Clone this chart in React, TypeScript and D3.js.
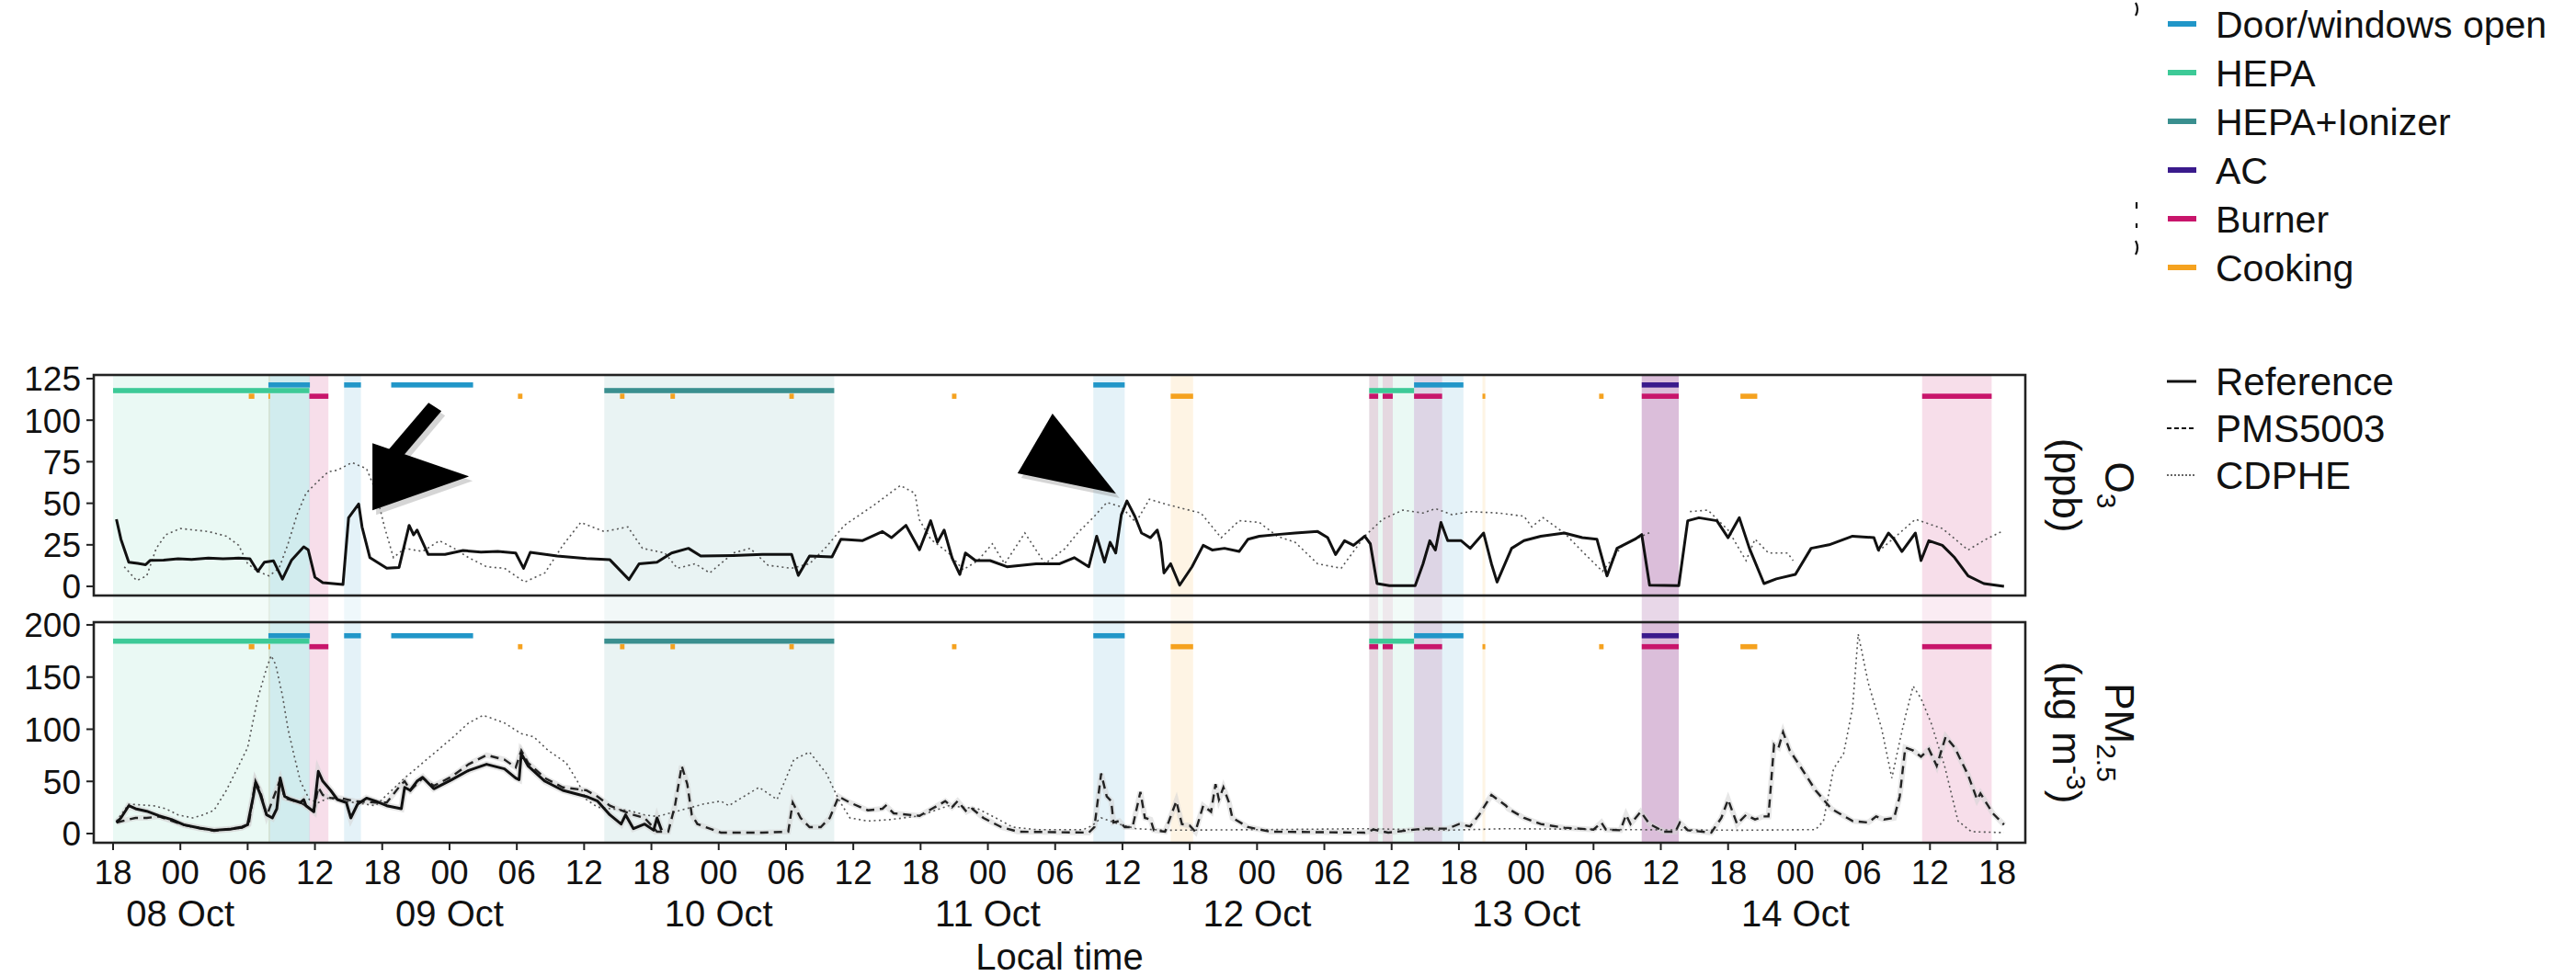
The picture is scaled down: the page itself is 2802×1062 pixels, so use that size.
import React from "react";
import * as d3 from "d3";

type Pt = [number, number | null];
type Span = [number, number];

// hours are counted from 07 Oct 18:00 local time
const START = new Date(2021, 9, 7, 18, 0, 0);
const at = (h: number) => d3.timeSecond.offset(START, Math.round(h * 3600));

// ---- activities ----
const activityNames = ["Door/windows open", "HEPA", "HEPA+Ionizer", "AC", "Burner", "Cooking"];
const activityColors = ["#2196c8", "#3dca97", "#3a8f8f", "#3a1a8c", "#c8156b", "#f5a21f"];

const doorOpen: Span[] = [[13.85, 17.55], [20.6, 22.1], [24.8, 32.1], [87.4, 90.2], [116.0, 120.4]];
const hepa: Span[] = [[0, 17.5], [112.0, 116.0]];
const hepaIonizer: Span[] = [[43.8, 64.3]];
const ac: Span[] = [[136.3, 139.6]];
const burner: Span[] = [[17.5, 19.2], [112.0, 112.8], [113.2, 114.1], [116.0, 118.5], [136.3, 139.6], [161.3, 167.5]];
const cooking: Span[] = [
  [12.1, 12.6], [13.85, 14.0], [36.1, 36.5], [45.2, 45.6], [49.7, 50.1], [60.3, 60.7],
  [74.8, 75.2], [94.3, 96.3], [122.1, 122.35], [132.5, 132.9], [145.1, 146.6],
];

// periods that are shaded across both panels: [activity index, from, to]
const shaded: [number, number, number][] = [
  [1, 0, 17.5], [0, 13.85, 17.55], [5, 13.85, 14.0], [4, 17.5, 19.2], [0, 20.6, 22.1],
  [2, 43.8, 64.3], [0, 87.4, 90.2], [5, 94.3, 96.3],
  [1, 112.0, 116.0], [4, 112.0, 112.8], [4, 113.2, 114.1], [4, 116.0, 118.5], [0, 116.0, 120.4],
  [5, 122.1, 122.35], [3, 136.3, 139.6], [4, 136.3, 139.6], [4, 161.3, 167.5],
];
const shadeAlphas = [0.12, 0.11, 0.11, 0.16, 0.14, 0.12];

// ---- O3 (ppb) ----
const o3Reference: Pt[] = [
  [0.3, 40.4], [0.7, 28.4], [1.4, 14.6], [2.2, 13.8], [2.9, 13], [3.3, 15.6], [4.5, 15.8], [5.8, 16.6], [7.0, 16.2],
  [8.5, 17], [9.8, 16.6], [11.2, 17], [12.2, 16.6], [12.9, 9], [13.5, 14.6], [14.3, 15.4], [15.1, 4.4], [15.9, 15.6],
  [17.0, 23.8], [17.4, 22], [18.0, 5.5], [18.7, 2.2], [20.5, 1.1], [21.0, 41.3], [21.9, 49.6], [22.2, 35.8],
  [22.9, 17.3], [24.4, 10.9], [25.5, 11.4], [26.4, 36.7], [26.8, 31], [27.1, 33.9], [28.1, 19.2], [29.6, 19.2],
  [31.2, 21.6], [32.8, 20.6], [34.3, 21], [35.9, 20.1], [36.6, 10.9], [37.2, 20.5], [39.6, 18.3], [42.2, 16.8],
  [44.3, 16], [46.0, 4.1], [46.9, 13.6], [48.5, 14.6], [49.8, 20.1], [51.3, 22.9], [52.4, 18.3], [55.3, 18.6],
  [57.9, 19.2], [60.5, 19.2], [61.1, 6.6], [62.1, 18.3], [64.1, 17.7], [64.9, 28.4], [66.8, 27.5], [68.6, 33],
  [69.4, 29.3], [70.7, 36.7], [71.9, 22], [72.9, 39.5], [73.5, 26.5], [74.1, 33.9], [74.8, 17.3], [75.5, 7.2],
  [76.0, 20.1], [76.9, 15.5], [78.2, 15.5], [79.7, 11.8], [82.3, 13.6], [84.4, 13.6], [85.7, 17.3], [87.0, 11.8],
  [87.7, 30.2], [88.4, 14.6], [88.9, 26.5], [89.4, 20.1], [89.9, 43.1], [90.4, 51.4], [91.1, 42.2], [91.7, 32.1],
  [92.5, 29.3], [93.1, 33.9], [93.4, 26.5], [93.7, 8.1], [94.3, 13.6], [95.1, 0.7], [96.2, 11.8], [97.2, 24.7],
  [98.0, 21.9], [99.1, 22.9], [100.4, 21], [101.2, 28.4], [102.2, 30.2], [103.8, 31.2], [105.4, 32.1],
  [107.4, 33], [108.3, 29.3], [109.0, 19.2], [109.8, 27.5], [110.6, 24.7], [111.6, 30.2], [112.1, 25.6],
  [112.7, 1.7], [113.8, 0.4], [116.1, 0.4], [116.8, 13.6], [117.4, 27.5], [117.9, 21.9], [118.4, 38.5],
  [119.0, 27.5], [120.2, 27.5], [121.0, 22.9], [122.2, 32.1], [122.9, 13.6], [123.4, 2.6], [124.7, 22.9],
  [125.8, 27.5], [127.3, 30.2], [129.4, 32.1], [131.0, 29.3], [132.3, 28.4], [133.2, 6.3], [134.1, 22.9],
  [135.7, 28.4], [136.3, 31.2], [137.0, 0.7], [139.6, 0.4], [140.4, 39.5], [141.4, 41.3], [143.0, 39.5],
  [144.0, 29.3], [145.0, 41.3], [145.9, 22.9], [147.2, 1.7], [148.3, 4.5], [150.0, 7.2], [151.4, 22.9],
  [153.0, 25], [155.1, 30.2], [157.0, 29.3], [157.4, 21.9], [158.3, 32.1], [158.8, 28.4], [159.5, 21],
  [160.7, 32.1], [161.2, 15.5], [161.9, 27.5], [163.1, 24.7], [164.2, 17.3], [165.4, 6.3], [166.8, 1.7],
  [168.6, 0],
];

const o3Cdphe: Pt[] = [
  [1.0, 11.8], [2.1, 3.5], [3.0, 6.3], [3.85, 22.9], [4.7, 31.1], [6.0, 34.8], [8.5, 33], [10.1, 30.2],
  [11.2, 24.7], [12.0, 13.6], [12.9, 9], [13.9, 6.3], [14.8, 10.9], [15.6, 25.6], [16.4, 43.1], [17.2, 56],
  [18.3, 63.4], [19.2, 69], [20.0, 69.9], [21.3, 74.5], [22.6, 70.8], [23.4, 57.9], [24.2, 35.8], [25.0, 17.3],
  [26.0, 22.9], [27.6, 21], [29.1, 27.5], [30.4, 22.9], [31.7, 17.3], [33.3, 11.8], [34.9, 10.9], [36.7, 2.6],
  [38.5, 8.1], [40.1, 24.7], [41.7, 38.5], [43.8, 33], [45.9, 35.8], [47.2, 22.9], [49.2, 20.1], [50.3, 10.9],
  [51.9, 13.6], [53.2, 8.1], [55.3, 20.1], [56.8, 22.9], [58.4, 12.7], [60.5, 10.9], [62.1, 13.6], [63.6, 23.8],
  [65.2, 36.7], [67.8, 48.7], [70.2, 60.7], [71.5, 56], [71.9, 40], [72.9, 28.4], [74.5, 20.1], [75.8, 10],
  [77.1, 15.5], [78.4, 25.6], [79.5, 13.6], [81.3, 32.1], [83.1, 13.6], [84.9, 22.9], [86.0, 32.1], [87.5, 42.2],
  [88.6, 50.5], [89.9, 47.8], [91.2, 38.5], [92.4, 52.4], [93.8, 49.6], [95.4, 46.8], [97.0, 44.1], [98.8, 29.3],
  [100.4, 39.5], [102.2, 38.5], [103.8, 30.2], [105.4, 26.5], [107.4, 13.6], [109.5, 10.9], [111.6, 30.2],
  [113.2, 40.4], [115.0, 45.9], [116.8, 44.1], [117.9, 46.8], [119.4, 43.1], [121.0, 45], [123.6, 44.1],
  [125.8, 42.2], [126.5, 35.8], [127.5, 41.3], [129.4, 32.1], [131.0, 21], [132.8, 9], [134.6, 24.7],
  [137.2, 33], [138.5, null], [140.6, 45], [142.2, 45.9], [144.0, 33.9], [145.6, 15.5], [146.4, 28.4],
  [147.6, 20.1], [149.3, 20.1], [149.8, 15.5], [153.0, null], [157.4, 21], [159.3, 32.1], [160.7, 40.4],
  [163.1, 34.8], [165.4, 21.9], [167.0, 28.4], [168.4, 33],
];

// ---- PM2.5 (ug m-3) ----
const pmReference: Pt[] = [
  [0.3, 10.6], [0.7, 15], [1.4, 26.7], [2.0, 23.8], [3.0, 21.4], [4.1, 17], [5.2, 13.5], [6.3, 8.5], [7.7, 5.3],
  [9.0, 3.2], [10.4, 4.1], [11.5, 6.2], [12.0, 8.5], [12.5, 35.5], [12.7, 48.8], [13.1, 38.5], [13.7, 17.9],
  [14.2, 15], [14.6, 23.8], [14.9, 53.2], [15.3, 35.5], [15.9, 32.6], [16.7, 29.7], [17.0, 32.6], [17.2, 26.7],
  [17.9, 20.9], [18.3, 59.6], [18.7, 50.2], [19.4, 41.4], [20.0, 32.6], [20.8, 29.7], [21.2, 15], [21.8, 28.2],
  [22.6, 34], [23.4, 31.1], [24.4, 26.7], [25.7, 23.8], [26.0, 44.3], [26.5, 41.4], [27.1, 50.2], [27.6, 54],
  [28.6, 42.9], [30.2, 51.7], [31.7, 60.5], [33.3, 66.4], [34.9, 62], [35.9, 53.2], [36.2, 51.7], [36.4, 76.7],
  [37.0, 64.9], [38.5, 50.2], [40.1, 41.4], [42.2, 35.5], [43.2, 31.1], [44.3, 17.9], [45.3, 9.1], [45.7, 17.9],
  [46.4, 4.7], [47.4, 9.1], [48.2, 3.2], [48.5, 15], [48.9, 3.2],
];

const pmPms5003: Pt[] = [
  [0.3, 10.6], [1.4, 13.5], [2.0, 15], [3.0, 15], [4.1, 16.4], [6.3, 8.2], [9.0, 2.6], [11.5, 5.6], [12.1, 9.1],
  [12.7, 50.2], [13.1, 41.4], [13.7, 17], [14.9, 51.7], [15.3, 34], [16.7, 29.7], [17.9, 22.3], [18.3, 44.3],
  [18.7, 37], [19.4, 34], [20.3, 34], [21.5, 31.1], [23.4, 29.7], [24.4, 29.7], [25.7, 47.3], [26.0, 50.2],
  [26.5, 41.4], [27.6, 53.2], [28.6, 45.8], [30.2, 54.6], [31.7, 66.4], [33.3, 75.2], [34.9, 70.8], [35.9, 63.4],
  [36.4, 79.6], [37.0, 67.8], [38.5, 53.2], [40.1, 44.3], [42.2, 41.4], [43.2, 35.5], [44.3, 26.7], [45.3, 22.3],
  [46.4, 17.9], [47.4, 15], [48.5, 1.8], [49.5, 1.8], [50.1, 26.7], [50.7, 64.9], [51.2, 47.3], [51.6, 17.9],
  [52.1, 9.1], [54.2, 0.9], [57.9, 0.9], [60.2, 1.8], [60.6, 29.7], [61.3, 15], [62.1, 6.2], [63.1, 6.2],
  [63.9, 15], [64.7, 35.5], [65.7, 29.7], [67.3, 22.3], [68.6, 23.8], [68.9, 26.7], [69.6, 19.4], [71.9, 17],
  [73.5, 26.7], [74.2, 31.1], [74.8, 25.3], [75.3, 31.1], [76.1, 20.9], [76.6, 23.8], [77.6, 15], [79.2, 6.2],
  [80.7, 1.8], [87.0, 0.9], [87.5, 6.2], [88.1, 57.6], [88.6, 35.5], [89.0, 31.1], [89.2, 10.6], [89.7, 12],
  [90.2, 6.2], [90.9, 6.2], [91.6, 39.9], [92.0, 15], [92.5, 13.5], [92.8, 3.2], [93.8, 1.8], [94.8, 31.1],
  [95.3, 9.1], [96.0, 7.6], [96.5, 1.8], [97.2, 26.7], [97.9, 20.9], [98.3, 47.3], [98.6, 32.6], [99.0, 44.3],
  [99.5, 29.7], [99.8, 15], [101.2, 6.2], [103.2, 1.8], [111.6, 0.9], [112.4, 3.8], [113.7, 0.9], [116.8, 4.7],
  [119.0, 4.7], [120.0, 9.1], [121.0, 6.8], [121.8, 17.9], [122.9, 37], [124.2, 26.7], [124.4, 23.8],
  [125.8, 15], [127.3, 9.1], [129.4, 5.6], [132.0, 3.8], [132.7, 10.6], [133.1, 3.8], [134.4, 3.2],
  [134.9, 17.9], [135.3, 9.1], [136.2, 20.9], [137.0, 9.1], [138.3, 1.8], [139.3, 1.8], [139.7, 10.6],
  [140.4, 3.2], [142.5, 0.9], [143.4, 15], [144.0, 32.6], [144.8, 9.1], [145.6, 17.9], [146.4, 13.5],
  [147.1, 16.4], [147.6, 16.4], [148.1, 85.5], [148.5, 82.5], [148.9, 97.2], [149.5, 79.6], [150.4, 64.9],
  [151.8, 41.4], [153.2, 23.8], [155.1, 12], [156.5, 10.6], [157.2, 16.4], [157.9, 13.5], [158.8, 15],
  [159.3, 35.5], [159.8, 82.5], [160.5, 79.6], [161.2, 73.7], [161.9, 81], [162.6, 64.9], [163.4, 92.8],
  [164.2, 82.5], [165.4, 56.1], [166.2, 32.6], [166.5, 38.5], [167.6, 19.4], [168.6, 8.5],
];

const pmCdphe: Pt[] = [
  [0.3, 12], [1.4, 28.2], [3.6, 26.7], [4.7, 23.8], [5.8, 17.9], [7.1, 15], [8.0, 17.9], [9.0, 22.3],
  [10.1, 41.4], [11.2, 64.9], [12.0, 82.5], [12.9, 129.5], [13.7, 158.9], [14.1, 170.6], [14.5, 161.8],
  [15.1, 132.5], [15.6, 100.1], [16.1, 76.7], [16.7, 50.2], [17.5, 32.6], [18.3, 29.7], [19.2, 34], [21.5, 29.7],
  [23.4, 26.7], [26.0, 53.2], [28.1, 72.2], [30.2, 91.3], [31.7, 106], [33.0, 113.4], [34.9, 106], [36.4, 95.7],
  [37.5, 92.8], [38.8, 79.6], [40.4, 67.8], [41.4, 50.2], [42.2, 32.6], [43.2, 25.3], [44.3, 23.8], [45.9, 22.3],
  [47.4, 17.9], [48.5, 16.4], [50.6, 22.3], [52.6, 28.2], [54.2, 31.1], [54.9, 26.7], [56.0, 34], [57.6, 44.3],
  [59.2, 32.6], [60.7, 70.8], [62.1, 78.1], [63.6, 57.6], [64.7, 32.6], [65.7, 15], [67.3, 12], [69.4, 13.5],
  [71.9, 17], [74.5, 26.7], [77.1, 23.8], [78.7, 15], [80.2, 6.2], [82.3, 3.8], [86.5, 3.8], [87.3, 7.6],
  [88.1, 15], [88.9, 12], [89.7, 9.1], [91.2, 4.7], [93.8, 3.2], [103.2, 3.8], [111.6, 4.7], [119.0, 3.2],
  [124.2, 4.7], [134.6, 3.8], [145.1, 3.2], [151.8, 3.8], [152.5, 12], [153.4, 62], [154.3, 76.7],
  [155.1, 120.7], [155.6, 191.2], [156.5, 144.2], [157.7, 100.1], [158.6, 53.2], [159.3, 88.4], [159.8, 111.9],
  [160.5, 141.3], [161.2, 129.5], [162.1, 106], [163.3, 64.9], [164.5, 12], [165.7, 1.8], [168.6, 0.9],
];

const o3Ticks = [0, 25, 50, 75, 100, 125];
const pmTicks = [0, 50, 100, 150, 200];
const seriesNames = ["Reference", "PMS5003", "CDPHE"];

const FONT = "'Liberation Sans', Arial, Helvetica, sans-serif";

export default function App() {
  const W = 2802;
  const H = 1062;
  const left = 102;
  const right = 2203;
  const o3Top = 408;
  const o3Bottom = 648;
  const pmTop = 677;
  const pmBottom = 917;

  const x = d3.scaleTime().domain([at(-1.72), at(170.5)]).range([left, right]);
  const yO3 = d3.scaleLinear().domain([-5.5, 127.2]).range([o3Bottom, o3Top]);
  const yPM = d3.scaleLinear().domain([-8.8, 202.6]).range([pmBottom, pmTop]);

  const lineOf = (y: d3.ScaleLinear<number, number>) =>
    d3
      .line<Pt>()
      .defined((d) => d[1] !== null)
      .x((d) => x(at(d[0])))
      .y((d) => y(d[1] as number));

  const lineO3 = lineOf(yO3);
  const linePM = lineOf(yPM);

  const spans: [number, Span[]][] = [
    [0, doorOpen], [1, hepa], [2, hepaIonizer], [3, ac], [4, burner], [5, cooking],
  ];
  // bar levels in data units (door/AC top, HEPA middle, burner/cooking bottom)
  const rowOf = [0, 1, 1, 0, 2, 2];
  const o3Levels = [121.2, 117.8, 114.4];
  const pmLevels = [189.6, 184.4, 179.1];

  const xTicks = x.ticks(d3.timeHour.every(6) as d3.TimeInterval);
  const fmtHour = d3.timeFormat("%H");
  const fmtDay = d3.timeFormat("%d %b");

  const bars = (yScale: d3.ScaleLinear<number, number>, levels: number[], key: string) =>
    spans.map(([k, list]) =>
      list.map((s, i) => (
        <rect
          key={`${key}-${k}-${i}`}
          x={x(at(s[0]))}
          width={Math.max(1.5, x(at(s[1])) - x(at(s[0])))}
          y={yScale(levels[rowOf[k]]) - 2.8}
          height={5.6}
          fill={activityColors[k]}
        />
      ))
    );

  const yAxis = (yScale: d3.ScaleLinear<number, number>, ticks: number[], key: string) =>
    ticks.map((t) => (
      <g key={`${key}-${t}`} transform={`translate(0,${yScale(t)})`}>
        <line x1={left - 8} x2={left} stroke="#222" strokeWidth={2} />
        <text x={left - 14} dy="0.36em" textAnchor="end" fontSize={37} fill="#111">
          {t}
        </text>
      </g>
    ));

  // annotation arrows, anchored on the peaks they point to
  const a1x = x(at(21.9));
  const a1y = yO3(49.6);
  const a2x = x(at(90.4));
  const a2y = yO3(51.4);
  const tri1 = [[15, -66], [120, -30], [15, 7]].map(([dx, dy]) => [a1x + dx, a1y + dy]);
  const shaft1 = [[76, -110], [90, -101], [44, -47], [30, -56]].map(([dx, dy]) => [a1x + dx, a1y + dy]);
  const tri2 = [[-81, -95], [-119, -30], [-12, -8]].map(([dx, dy]) => [a2x + dx, a2y + dy]);
  const poly = (p: number[][], ox = 0, oy = 0) => p.map(([a, b]) => `${a + ox},${b + oy}`).join(" ");

  return (
    <svg
      width={W}
      height={H}
      viewBox={`0 0 ${W} ${H}`}
      style={{ position: "absolute", left: 0, top: 0, background: "#fff", fontFamily: FONT }}
    >
      <defs>
        <clipPath id="clipO3">
          <rect x={left} y={o3Top} width={right - left} height={o3Bottom - o3Top} />
        </clipPath>
        <clipPath id="clipPM">
          <rect x={left} y={pmTop} width={right - left} height={pmBottom - pmTop} />
        </clipPath>
      </defs>
      <rect x={0} y={0} width={W} height={H} fill="#fff" />

      {/* shaded periods */}
      {shaded.map(([k, a, b], i) => (
        <g key={`sh-${i}`} fill={activityColors[k]}>
          <rect x={x(at(a))} width={x(at(b)) - x(at(a))} y={o3Top} height={o3Bottom - o3Top} opacity={shadeAlphas[k]} />
          <rect x={x(at(a))} width={x(at(b)) - x(at(a))} y={o3Bottom} height={pmTop - o3Bottom} opacity={shadeAlphas[k] * 0.6} />
          <rect x={x(at(a))} width={x(at(b)) - x(at(a))} y={pmTop} height={pmBottom - pmTop} opacity={shadeAlphas[k]} />
        </g>
      ))}

      {/* activity bars */}
      {bars(yO3, o3Levels, "o3")}
      {bars(yPM, pmLevels, "pm")}

      {/* O3 lines */}
      <g clipPath="url(#clipO3)" fill="none">
        <path d={lineO3(o3Cdphe) || ""} stroke="#555" strokeWidth={1.6} strokeDasharray="2 3.5" />
        <path d={lineO3(o3Reference) || ""} stroke="#111" strokeWidth={3} strokeLinejoin="round" />
      </g>

      {/* PM lines */}
      <g clipPath="url(#clipPM)" fill="none">
        <path d={linePM(pmPms5003) || ""} stroke="#d4d4d4" strokeWidth={6} opacity={0.55} />
        <path d={linePM(pmReference) || ""} stroke="#d4d4d4" strokeWidth={7} opacity={0.55} />
        <path d={linePM(pmCdphe) || ""} stroke="#555" strokeWidth={1.6} strokeDasharray="2 3.5" />
        <path d={linePM(pmPms5003) || ""} stroke="#222" strokeWidth={2.4} strokeDasharray="9 6" />
        <path d={linePM(pmReference) || ""} stroke="#111" strokeWidth={3} strokeLinejoin="round" />
      </g>

      {/* panel frames */}
      <rect x={left} y={o3Top} width={right - left} height={o3Bottom - o3Top} fill="none" stroke="#222" strokeWidth={2.6} />
      <rect x={left} y={pmTop} width={right - left} height={pmBottom - pmTop} fill="none" stroke="#222" strokeWidth={2.6} />

      {yAxis(yO3, o3Ticks, "yo3")}
      {yAxis(yPM, pmTicks, "ypm")}

      {/* x axis */}
      {xTicks.map((d, i) => (
        <g key={`xt-${i}`} transform={`translate(${x(d)},0)`}>
          <line y1={pmBottom} y2={pmBottom + 8} stroke="#222" strokeWidth={2} />
          <text y={962} textAnchor="middle" fontSize={37} fill="#111">
            {fmtHour(d)}
          </text>
          {d.getHours() === 0 && (
            <text y={1008} textAnchor="middle" fontSize={40} fill="#111">
              {fmtDay(d)}
            </text>
          )}
        </g>
      ))}
      <text x={(left + right) / 2} y={1055} textAnchor="middle" fontSize={40} fill="#111">
        Local time
      </text>

      {/* right-hand axis titles */}
      <g fontSize={44} fill="#111" textAnchor="middle">
        <text transform={`translate(2290,${(o3Top + o3Bottom) / 2}) rotate(90)`}>
          O<tspan fontSize={30} dy={9}>3</tspan>
        </text>
        <text transform={`translate(2233,${(o3Top + o3Bottom) / 2}) rotate(90)`}>(ppb)</text>
        <text transform={`translate(2290,${(pmTop + pmBottom) / 2}) rotate(90)`}>
          PM<tspan fontSize={30} dy={9}>2.5</tspan>
        </text>
        <text transform={`translate(2233,${(pmTop + pmBottom) / 2}) rotate(90)`}>
          (µg m<tspan fontSize={30} dy={-15}>-3</tspan>
          <tspan dy={15}>)</tspan>
        </text>
      </g>

      {/* arrows */}
      <polygon points={poly(shaft1, 4, 5)} fill="#888" opacity={0.35} />
      <polygon points={poly(tri1, 4, 5)} fill="#888" opacity={0.35} />
      <polygon points={poly(tri2, 4, 5)} fill="#888" opacity={0.35} />
      <polygon points={poly(shaft1)} fill="#000" />
      <polygon points={poly(tri1)} fill="#000" />
      <polygon points={poly(tri2)} fill="#000" />

      {/* activity legend */}
      {activityNames.map((name, i) => (
        <g key={`la-${i}`} transform={`translate(0,${26 + i * 53})`}>
          <line x1={2358} x2={2389} stroke={activityColors[i]} strokeWidth={6} />
          <text x={2410} dy="0.36em" fontSize={41} fill="#111">
            {name}
          </text>
        </g>
      ))}
      {/* stray marks left of the legend */}
      <g fill="none" stroke="#111" strokeWidth={2.2}>
        <path d="M2323,3 Q2327,10 2323,17" />
        <path d="M2324,220 L2324,227" />
        <path d="M2324,243 L2324,248" />
        <path d="M2323,262 Q2327,269.5 2323,277" />
      </g>

      {/* series legend */}
      {seriesNames.map((name, i) => (
        <g key={`ls-${i}`} transform={`translate(0,${415 + i * 51})`}>
          <line
            x1={2357}
            x2={2389}
            stroke={i === 2 ? "#666" : "#111"}
            strokeWidth={i === 0 ? 3 : 2}
            strokeDasharray={i === 1 ? "5 3" : i === 2 ? "2 2" : undefined}
          />
          <text x={2410} dy="0.36em" fontSize={42} fill="#111">
            {name}
          </text>
        </g>
      ))}
    </svg>
  );
}
